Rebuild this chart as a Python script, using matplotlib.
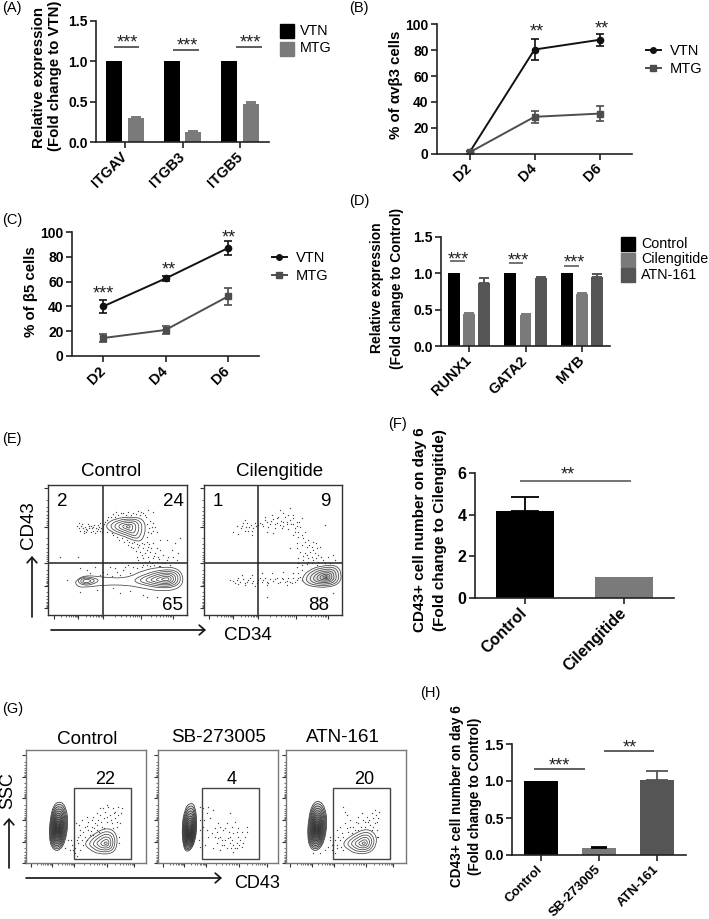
import matplotlib
matplotlib.use("Agg")
import matplotlib.pyplot as plt
import numpy as np
from matplotlib.lines import Line2D
from matplotlib.path import Path as MPath
from matplotlib.patches import FancyArrowPatch, PathPatch, Rectangle

plt.rcParams["font.family"] = ["Liberation Sans", "DejaVu Sans"]

W, H = 709, 919

# bar / line values
A_GENES = ["ITGAV", "ITGB3", "ITGB5"]
A_VTN = [1.0, 1.0, 1.0]
A_MTG = [0.30, 0.125, 0.47]
A_MTG_ERR = [0.015, 0.012, 0.03]

DAYS = ["D2", "D4", "D6"]
B_VTN = [1, 80.5, 88]
B_VTN_ERR = [1, 8, 4.5]
B_MTG = [1, 28.5, 31]
B_MTG_ERR = [1, 4.5, 5.5]

C_VTN = [40, 62.5, 87]
C_VTN_ERR = [5, 2, 5.5]
C_MTG = [14.5, 21, 48]
C_MTG_ERR = [3, 3, 6.5]

D_GENES = ["RUNX1", "GATA2", "MYB"]
D_CONTROL = [1.0, 1.0, 1.0]
D_CIL = [0.44, 0.43, 0.72]
D_CIL_ERR = [0.015, 0.01, 0.015]
D_ATN = [0.87, 0.935, 0.95]
D_ATN_ERR = [0.07, 0.015, 0.04]

F_GROUPS = ["Control", "Cilengitide"]
F_VALUES = [4.2, 1.0]
F_ERR = [0.65, 0.0]

H_GROUPS = ["Control", "SB-273005", "ATN-161"]
H_VALUES = [1.0, 0.1, 1.02]
H_ERR = [0.0, 0.01, 0.12]

# flow panels: events and contour outlines, in the units of each plot's own scale
E_CTRL_DOTS = [(232,378),(240,392),(248,385),(255,380),(262,390),(268,378),(275,385),(282,375),(290,392),(297,380),
    (303,385),(310,378),(245,372),(258,395),(272,395),(285,400),(300,370),(315,365),(238,368),(252,400),(265,372),
    (280,382),(293,388),(306,395),(325,350),(340,342),(355,345),(370,340),(385,335),(400,338),(415,332),(430,340),
    (445,330),(460,335),(348,335),(392,345),(420,345),(438,350),(450,362),(455,380),(445,395),(440,410),(452,400),
    (465,380),(320,395),(335,400),(350,410),(365,415),(380,420),(395,430),(410,432),(425,428),(440,425),(385,435),
    (400,445),(415,440),(430,445),(445,440),(460,430),(470,445),(420,455),(435,460),(450,455),(465,460),(480,450),
    (445,470),(460,475),(475,470),(490,465),(430,475),(415,480),(455,490),(470,485),(485,490),(500,480),(440,495),
    (510,495),(525,430),(540,415),(500,420),(520,470),(240,505),(260,510),(285,500),(310,515),(330,500),(350,515),
    (370,510),(390,520),(410,505),(425,500),(450,498),(480,497),(360,525),(300,525),(335,528),(240,575),(290,570),
    (340,565),(390,572),(430,585),(470,590),(235,470),(180,470),(200,540),(520,590),
    (236,385),(244,378),(251,392),(259,386),(266,383),(273,378),(279,392),(287,384),(294,376),(301,392),(308,386),
    (313,372),(322,360),(332,352),(345,350),(362,338),(378,345),(408,342),(424,335),(436,345),(442,372),(448,385),
    (458,392),(460,370),(340,405),(358,420),(372,425),(388,425),(402,425),(418,435),(432,432),(448,432),(392,440),
    (408,452),(425,465),(440,450),(452,445),(462,468),(478,478),(448,482),(462,495),(478,498),(495,490),(505,470),
    (530,480),(435,485),(428,495),(410,470),(385,495),(400,500),(270,520),(320,522),(345,505),(375,500),(440,590),
    (360,580),(480,420),(470,395),(515,450),(535,460)]
E_CIL_DOTS = [(700,395),(712,378),(722,385),(730,370),(738,380),(745,392),(752,375),(760,385),(768,378),(735,360),
    (715,402),(755,405),(780,370),(790,378),(800,365),(810,372),(820,358),(830,368),(840,375),(850,365),(860,372),
    (870,360),(880,372),(890,365),(795,350),(815,345),(835,350),(850,340),(865,345),(880,345),(825,385),(845,385),
    (865,388),(885,385),(900,380),(905,355),(840,330),(870,325),(800,395),(820,400),(915,395),(975,375),(880,405),
    (895,410),(910,415),(925,420),(940,425),(890,430),(905,435),(920,440),(935,440),(950,445),(900,455),(915,460),
    (930,455),(945,460),(955,465),(895,475),(910,480),(925,475),(940,480),(955,485),(970,480),(985,470),(905,495),
    (920,492),(935,490),(950,495),(1000,465),(1005,480),(890,500),(870,445),(700,543),(710,540),(720,545),(730,538),
    (740,545),(750,535),(760,542),(770,548),(780,535),(790,540),(800,545),(810,538),(820,543),(830,535),(840,545),
    (850,538),(860,542),(870,545),(880,535),(890,540),(900,530),(725,525),(755,525),(785,520),(815,520),(850,515),
    (880,518),(895,520),(735,555),(765,558),(800,555),(860,555),(950,590),(1000,580),(800,590),
    (726,378),(734,392),(742,370),(748,382),(756,392),(764,370),(775,375),(785,372),(795,360),(805,380),(812,362),
    (825,372),(832,355),(842,362),(848,378),(855,352),(862,365),(872,372),(878,355),(890,378),(898,365),(885,395),
    (895,395),(905,405),(915,425),(928,435),(940,450),(948,430),(960,440),(892,445),(908,468),(922,465),(935,470),
    (948,475),(962,470),(975,490),(990,488),(905,510),(925,485),(895,490),(705,548),(715,535),(735,548),(745,540),
    (755,548),(775,540),(785,545),(795,535),(805,548),(825,538),(835,548),(845,533),(855,545),(865,535),(875,548),
    (885,545),(895,535),(905,540),(690,540),(715,552)]
G_CTRL_DOTS = [(205,480),(215,495),(225,505),(235,490),(245,480),(235,470),(255,470),(265,450),(275,440),(285,430),
    (295,420),(300,405),(315,395),(325,380),(340,385),(355,380),(365,385),(330,405),(345,415),(355,405),(360,430),
    (350,440),(335,430),(320,425),(305,440),(290,450),(270,465),(255,440),(240,450),(228,430),(245,420),(265,425),
    (280,410),(300,385),(320,375),(210,510),(195,505),(225,518),(240,510),(358,470),(358,490),
    (250,455),(262,438),(272,452),(282,445),(292,435),(302,425),(312,415),(322,410),(332,420),(342,400),(350,425),
    (338,445),(312,445),(298,455),(280,465),(262,480),(250,495),(240,465),(230,480),(222,495),(212,480),(218,510),
    (232,528),(345,395),(362,400),(310,385),(290,400),(275,420),(262,410),(238,435)]
G_SB_DOTS = [(600,380),(610,385),(625,380),(640,390),(600,420),(610,440),(605,470),(615,495),(600,500),(630,415),
    (620,450),(635,460),(650,455),(660,470),(670,450),(680,430),(690,400),(695,440),(705,425),(715,445),(725,455),
    (740,440),(735,470),(720,480),(710,490),(700,495),(690,490),(680,505),(665,495),(650,490),(640,505),(705,505),
    (725,500),(675,480),(690,470),(715,470),(655,430),
    (645,470),(655,475),(665,480),(672,495),(685,475),(695,480),(700,460),(710,455),(712,505),(718,495),(730,490),
    (740,455),(692,505),(698,515),(660,510),(645,445),(625,470),(612,420),(605,395),(620,400),(600,450),(598,480),
    (688,455),(675,445),(660,440)]
G_ATN_DOTS = [(990,480),(1000,495),(1010,505),(995,510),(1020,480),(1030,470),(1045,455),(1060,440),(1075,430),
    (1090,420),(1100,410),(1115,400),(1125,390),(1135,415),(1125,430),(1110,435),(1095,440),(1075,450),(1055,460),
    (1035,430),(1020,440),(1010,450),(1040,405),(1030,380),(1085,400),(1130,450),(1135,470),(985,500),(1005,520),
    (1030,510),(960,520),(940,520),(1105,425),(1120,415),
    (1025,460),(1040,445),(1050,440),(1065,450),(1082,440),(1095,425),(1108,420),(1118,440),(1128,405),(1138,395),
    (1130,425),(1115,450),(1130,470),(1050,420),(1015,470),(1005,480),(995,495),(1000,465),(990,470),(975,510),
    (1012,495),(1022,500),(1035,395),(1075,410),(1068,425)]

E_CTRL_TOP = [(315,375),(345,355),(400,350),(430,358),(438,385),(428,420),(410,425),(375,410),(330,395)]
E_CTRL_BAND = [(225,543),(255,525),(310,532),(380,535),(430,510),(490,500),(535,505),(552,535),(540,565),(490,575),
    (430,565),(380,555),(310,555),(250,563),(230,558)]
E_CTRL_RIGHT = [(385,543),(430,520),(490,505),(535,510),(548,535),(535,560),(490,568),(430,558)]
E_CTRL_LEFT = [(230,543),(250,530),(275,532),(300,540),(280,553),(250,557)]
E_CIL_RIGHT = [(905,535),(925,510),(965,497),(1010,495),(1025,520),(1020,550),(985,563),(935,560),(912,550)]
G_CTRL_LEFT = [(150,420),(160,375),(180,363),(198,380),(205,430),(195,490),(175,515),(155,505),(147,470)]
G_CTRL_RIGHT = [(250,490),(290,455),(325,443),(350,460),(352,500),(335,522),(295,522),(270,510)]
G_SB_LEFT = [(545,440),(555,385),(570,368),(585,375),(592,430),(585,490),(565,518),(550,505)]
G_ATN_LEFT = [(925,420),(935,375),(955,360),(975,380),(982,430),(972,490),(950,515),(930,505),(922,470)]
G_ATN_RIGHT = [(1025,490),(1060,462),(1100,445),(1128,462),(1130,495),(1110,520),(1070,522),(1045,510)]

BLACK = "#000000"
GREY = "#7a7a7a"
DARK = "#555555"
LINE_DARK = "#111111"
LINE_GREY = "#4d4d4d"

fig = plt.figure(figsize=(W / 100, H / 100), dpi=100)


def px_axes(left, top, right, bottom):
    return fig.add_axes([left / W, 1 - bottom / H, (right - left) / W, (bottom - top) / H])


def txt(x, y, s, **kw):
    kw.setdefault("ha", "center")
    kw.setdefault("va", "center")
    fig.text(x / W, 1 - y / H, s, **kw)


def prism(ax, ylim, yticks, ylabels, xticks, xlabels, size=10, xsize=10.5):
    ax.set_xlim(-0.5, xticks[-1] + 0.5)
    ax.set_ylim(*ylim)
    ax.set_yticks(yticks)
    ax.set_yticklabels(ylabels, fontsize=size, fontweight="bold")
    ax.set_xticks(xticks)
    ax.set_xticklabels(xlabels, fontsize=xsize, fontweight="bold", rotation=45, ha="right", va="center",
                       rotation_mode="anchor")
    ax.spines[["top", "right"]].set_visible(False)
    ax.spines[["left", "bottom"]].set_linewidth(1.2)
    ax.spines[["left", "bottom"]].set_color("#222222")
    ax.tick_params(length=4, width=1.2, color="#222222")
    ax.tick_params(axis="y", pad=2)
    ax.tick_params(axis="x", pad=5)
    ax.patch.set_alpha(0)


def stars(ax, x, y, s, size=13):
    ax.text(x, y, s, ha="center", va="center", fontsize=size, color="#222222", clip_on=False)


def sig(ax, x0, x1, y, color="#333333"):
    ax.plot([x0, x1], [y, y], color=color, lw=1.1, clip_on=False, solid_capstyle="butt")


def bars(ax, x, vals, errs, width, color):
    ax.bar(x, vals, width=width, color=color)
    if errs is not None:
        zero = np.zeros(len(vals))
        ax.errorbar(x, vals, yerr=[zero, errs], fmt="none", ecolor=color, elinewidth=1.4,
                    capsize=3.5, capthick=1.4)


def lines(ax, x, vals, errs, color, marker):
    ax.errorbar(x, vals, yerr=errs, color=color, marker=marker, ms=4.5, lw=1.4, elinewidth=1.2,
                capsize=3, capthick=1.2)


def line_legend(ax, left, top):
    handles = [Line2D([], [], color=LINE_DARK, marker="o", ms=4, lw=1.4, label="VTN"),
               Line2D([], [], color=LINE_GREY, marker="s", ms=4, lw=1.4, label="MTG")]
    ax.legend(handles=handles, loc="upper left", bbox_to_anchor=(left / W, 1 - top / H),
              bbox_transform=fig.transFigure, frameon=False, fontsize=10.5, handlelength=1.0,
              handletextpad=0.65, labelspacing=0.28, borderpad=0, borderaxespad=0)


def bar_legend(labels, colors, x, ys, size):
    for label, color, y in zip(labels, colors, ys):
        fig.add_artist(Rectangle((x / W, 1 - (y + size / 2) / H), size / W, size / H, color=color,
                                 transform=fig.transFigure))
        txt(x + size + 6, y, label, ha="left", fontsize=10.3)


# (A)
ax = px_axes(96, 20.7, 269, 142)
x = np.arange(3)
bars(ax, x - 0.188, A_VTN, None, 0.28, BLACK)
bars(ax, x + 0.188, A_MTG, A_MTG_ERR, 0.28, GREY)
prism(ax, (0, 1.5), [0, 0.5, 1, 1.5], ["0.0", "0.5", "1.0", "1.5"], x, A_GENES)
for x0, x1, y in [(-0.19, 0.24, 1.174), (0.84, 1.28, 1.137), (1.93, 2.38, 1.174)]:
    sig(ax, x0, x1, y)
    stars(ax, (x0 + x1) / 2 + 0.02, y + 0.05, "***")
txt(39, 78, "Relative expression", rotation=90, fontsize=10.8, fontweight="bold")
txt(55, 76, "(Fold change to VTN)", rotation=90, fontsize=10.8, fontweight="bold")
bar_legend(["VTN", "MTG"], [BLACK, GREY], 280, [31, 48.5], 14)

# (B)
ax = px_axes(437, 24.3, 632, 153.7)
lines(ax, x, B_VTN, B_VTN_ERR, LINE_DARK, "o")
lines(ax, x, B_MTG, B_MTG_ERR, LINE_GREY, "s")
prism(ax, (0, 100), [0, 20, 40, 60, 80, 100], ["0", "20", "40", "60", "80", "100"], x, DAYS)
stars(ax, 1.04, 94, "**")
stars(ax, 2.03, 96, "**")
txt(396, 85, "% of αvβ3 cells", rotation=90, fontsize=10.8, fontweight="bold")
line_legend(ax, 646, 44)

# (C)
ax = px_axes(72, 232, 259, 356)
lines(ax, x, C_VTN, C_VTN_ERR, LINE_DARK, "o")
lines(ax, x, C_MTG, C_MTG_ERR, LINE_GREY, "s")
prism(ax, (0, 100), [0, 20, 40, 60, 80, 100], ["0", "20", "40", "60", "80", "100"], x, DAYS)
stars(ax, 0, 50, "***")
stars(ax, 1.06, 69, "**")
stars(ax, 2.02, 95, "**")
txt(31, 292, "% of β5 cells", rotation=90, fontsize=10.8, fontweight="bold")
line_legend(ax, 272, 251)

# (D)
ax = px_axes(441, 237, 610, 346)
bars(ax, x - 0.27, D_CONTROL, None, 0.21, BLACK)
bars(ax, x, D_CIL, D_CIL_ERR, 0.21, GREY)
bars(ax, x + 0.27, D_ATN, D_ATN_ERR, 0.21, DARK)
prism(ax, (0, 1.5), [0, 0.5, 1, 1.5], ["0.0", "0.5", "1.0", "1.5"], x, D_GENES)
for x0, x1, y, sx, sy in [(-0.34, -0.07, 1.17, -0.2, 1.19), (0.70, 0.96, 1.146, 0.875, 1.17),
                          (1.68, 1.95, 1.10, 1.86, 1.14)]:
    sig(ax, x0, x1, y, color=LINE_GREY)
    stars(ax, sx, sy, "***")
txt(377, 288, "Relative expression", rotation=90, fontsize=10, fontweight="bold")
txt(397, 288, "(Fold change to Control)", rotation=90, fontsize=10, fontweight="bold")
bar_legend(["Control", "Cilengitide", "ATN-161"], [BLACK, GREY, DARK], 621, [244, 259.5, 275], 14)

# (F)
ax = px_axes(475, 473, 674, 598)
x2 = np.arange(2)
ax.bar(x2[0], F_VALUES[0], width=0.585, color=BLACK)
ax.bar(x2[1], F_VALUES[1], width=0.585, color=GREY)
ax.errorbar(x2[0], F_VALUES[0], yerr=[[0], [F_ERR[0]]], fmt="none", ecolor=BLACK, elinewidth=1.3,
            capsize=10, capthick=1.3)
prism(ax, (0, 6), [0, 2, 4, 6], ["0", "2", "4", "6"], x2, F_GROUPS, size=11.5, xsize=11.5)
sig(ax, -0.05, 1.065, 5.62, color=LINE_GREY)
stars(ax, 0.43, 5.9, "**")
txt(420, 530, "CD43+ cell number on day 6", rotation=90, fontsize=11, fontweight="bold")
txt(440, 530, "(Fold change to Cilengitide)", rotation=90, fontsize=11, fontweight="bold")

# (H)
ax = px_axes(512, 744, 686, 855)
x3 = np.arange(3)
for i, color in enumerate([BLACK, GREY, DARK]):
    ax.bar(x3[i], H_VALUES[i], width=0.6, color=color)
    if H_ERR[i] > 0:
        ax.errorbar(x3[i], H_VALUES[i], yerr=[[0], [H_ERR[i]]], fmt="none", ecolor=color if i == 2 else BLACK,
                    elinewidth=1.3, capsize=6 if i == 1 else 8, capthick=1.3)
prism(ax, (0, 1.5), [0, 0.5, 1, 1.5], ["0.0", "0.5", "1.0", "1.5"], x3, H_GROUPS, size=10, xsize=9.5)
sig(ax, -0.12, 0.76, 1.16)
stars(ax, 0.31, 1.2, "***")
sig(ax, 1.09, 1.95, 1.405)
stars(ax, 1.53, 1.44, "**")
txt(457, 796, "CD43+ cell number on day 6", rotation=90, fontsize=9.8, fontweight="bold")
txt(475, 796, "(Fold change to Control)", rotation=90, fontsize=9.8, fontweight="bold")


# flow cytometry panels
def contour(ax, outline, scales, center=None, lw=0.55, color="#444444", shade=0.0):
    pts = np.array(outline, float)
    c = pts.mean(axis=0) if center is None else np.array(center, float)
    for s in scales:
        p = c + (pts - c) * s
        nxt = np.roll(p, -1, axis=0)
        mid = (p + nxt) / 2
        verts = [mid[-1]]
        codes = [MPath.MOVETO]
        for a, b in zip(p, mid):
            verts += [a, b]
            codes += [MPath.CURVE3, MPath.CURVE3]
        path = MPath(verts, codes)
        if shade > 0:
            ax.add_patch(PathPatch(path, fc="#222222", ec="none", alpha=shade))
        ax.add_patch(PathPatch(path, fill=False, ec=color, lw=lw))


def flow_axes(left, top, right, bottom, xlim, ylim, xmajor, ymajor, edge):
    ax = px_axes(left, top, right, bottom)
    ax.set_xlim(*xlim)
    ax.set_ylim(*ylim)
    for sp in ax.spines.values():
        sp.set_color(edge)
        sp.set_linewidth(1.0)
    ax.set_xticks(xmajor)
    ax.set_yticks(ymajor)
    ax.set_xticklabels([])
    ax.set_yticklabels([])
    ax.tick_params(length=3, width=0.8, color="#333333")
    # log style minor ticks between the decades
    fr = np.log10(np.arange(2, 10))
    xm = np.concatenate([a + (b - a) * fr for a, b in zip(xmajor[:-1], xmajor[1:])])
    ym = np.concatenate([a + (b - a) * fr for a, b in zip(ymajor[:-1], ymajor[1:])])
    ax.set_xticks(xm, minor=True)
    ax.set_yticks(ym, minor=True)
    ax.tick_params(which="minor", length=1.5, width=0.5, color="#333333")
    return ax


def dots(ax, pts):
    arr = np.array(pts)
    ax.scatter(arr[:, 0], arr[:, 1], s=0.9, color="#444444", linewidths=0, zorder=1)


SCALES_E = [1, 0.8, 0.62, 0.44, 0.26, 0.1]
SCALES_DENSE = [1, 0.92, 0.84, 0.76, 0.68, 0.6, 0.53, 0.46, 0.39, 0.32, 0.26, 0.2, 0.14, 0.08]

# (E)
ylim_e = (645, 255)
ax = flow_axes(48.3, 485, 186.7, 615, (145, 560), ylim_e, [162, 235, 310, 423, 518], [265, 380, 488, 557, 625], "#333333")
dots(ax, E_CTRL_DOTS)
contour(ax, E_CTRL_TOP, SCALES_E, center=(385, 380))
contour(ax, E_CTRL_BAND, [1])
contour(ax, E_CTRL_RIGHT, [0.92, 0.76, 0.6, 0.45, 0.3, 0.15], center=(500, 538))
contour(ax, E_CTRL_LEFT, [1, 0.7, 0.4], center=(258, 543))
ax.axvline(310, color="#222222", lw=1.1)
ax.axhline(488, color="#222222", lw=1.1)
ax.text(186, 304, "2", fontsize=13.5, ha="center", va="center")
ax.text(520, 304, "24", fontsize=13.5, ha="center", va="center")
ax.text(518, 615, "65", fontsize=13.5, ha="center", va="center")

ax = flow_axes(204, 485, 341.7, 615, (612, 1025), ylim_e, [628, 700, 775, 888, 983], [265, 380, 488, 557, 625], "#333333")
dots(ax, E_CIL_DOTS)
contour(ax, E_CIL_RIGHT, SCALES_DENSE[::2] + [0.05], center=(978, 532), shade=0.03)
ax.axvline(775, color="#222222", lw=1.1)
ax.axhline(488, color="#222222", lw=1.1)
ax.text(652, 304, "1", fontsize=13.5, ha="center", va="center")
ax.text(975, 304, "9", fontsize=13.5, ha="center", va="center")
ax.text(956, 615, "88", fontsize=13.5, ha="center", va="center")

txt(111, 471, "Control", fontsize=13.5)
txt(280, 471, "Cilengitide", fontsize=13.5)
txt(29, 525, "CD43", rotation=90, fontsize=13.5)
txt(248, 635, "CD34", fontsize=13.5)


def arrow(x0, y0, x1, y1):
    fig.add_artist(FancyArrowPatch(
        (x0 / W, 1 - y0 / H), (x1 / W, 1 - y1 / H), transform=fig.transFigure, arrowstyle="->,head_length=4,head_width=3.5",
        lw=1.2, color="#111111", shrinkA=0, shrinkB=0))


arrow(32, 617, 32, 556)
arrow(51, 630, 206, 630)

# (G)
ylim_g = (550, 210)
EDGE_G = "#777777"
ymaj_g = [225, 290, 355, 420, 485, 550]
ax = flow_axes(26, 750, 145.7, 863.3, (78, 437), ylim_g, [92, 155, 222, 320, 403], ymaj_g, EDGE_G)
dots(ax, G_CTRL_DOTS)
contour(ax, G_CTRL_LEFT, SCALES_DENSE, center=(172, 450), color="#333333", shade=0.09)
contour(ax, G_CTRL_RIGHT, SCALES_E, center=(318, 490))
ax.add_patch(Rectangle((222, 325), 170, 211, fill=False, ec="#444444", lw=1.0))
ax.text(316, 300, "22", fontsize=13, ha="center", va="center")

ax = flow_axes(158.3, 750, 278.3, 863.3, (475, 835), ylim_g, [490, 552, 619, 717, 800], ymaj_g, EDGE_G)
dots(ax, G_SB_DOTS)
contour(ax, G_SB_LEFT, SCALES_DENSE, center=(568, 465), color="#333333", shade=0.09)
ax.add_patch(Rectangle((607, 325), 169, 212, fill=False, ec="#444444", lw=1.0))
ax.text(695, 300, "4", fontsize=13, ha="center", va="center")

ax = flow_axes(285.7, 750, 405.7, 863.3, (857, 1217), ylim_g, [871, 935, 1001, 1097, 1180], ymaj_g, EDGE_G)
dots(ax, G_ATN_DOTS)
contour(ax, G_ATN_LEFT, SCALES_DENSE, center=(950, 450), color="#333333", shade=0.09)
contour(ax, G_ATN_RIGHT, SCALES_E, center=(1092, 490))
ax.add_patch(Rectangle((1000, 325), 170, 212, fill=False, ec="#444444", lw=1.0))
ax.text(1093, 300, "20", fontsize=13, ha="center", va="center")

txt(87, 740, "Control", fontsize=13.6)
txt(219, 738, "SB-273005", fontsize=13.6)
txt(343, 738, "ATN-161", fontsize=13.6)
txt(8, 791, "SSC", rotation=90, fontsize=13)
txt(257, 883, "CD43", fontsize=13)
arrow(9, 868, 9, 818)
arrow(26, 878, 222, 878)

# panel letters
for label, lx, ly in [("(A)", 2, 8), ("(B)", 349, 8), ("(C)", 2, 220), ("(D)", 349, 201), ("(E)", 2, 439),
                      ("(F)", 388, 424), ("(G)", 2, 709), ("(H)", 420, 693)]:
    txt(lx, ly, label, ha="left", fontsize=10.5)

fig.savefig("out.png", dpi=100)
